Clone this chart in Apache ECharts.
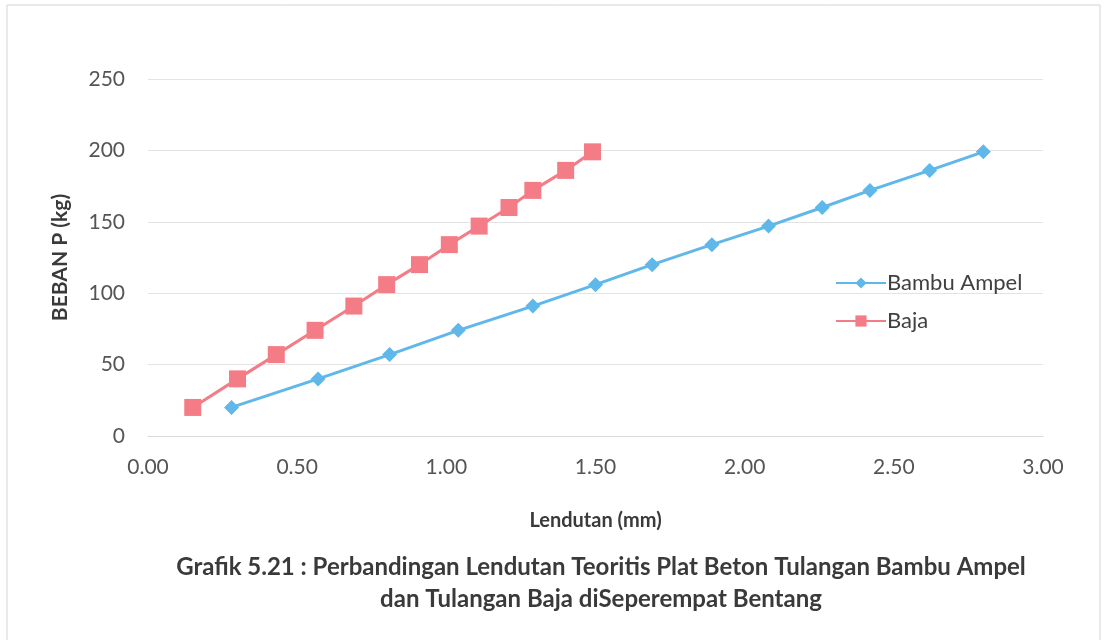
<!DOCTYPE html>
<html>
<head>
<meta charset="utf-8">
<script src="https://cdn.jsdelivr.net/npm/echarts@6/dist/echarts.min.js"></script>
<style>
  html, body { margin: 0; padding: 0; background: #ffffff; }
  #chart { width: 1106px; height: 640px; }
</style>
</head>
<body>
<div id="chart"></div>
<script>
// Load P (kg) applied at each step
const beban = [20, 40, 57, 74, 91, 106, 120, 134, 147, 160, 172, 186, 199];
// Theoretical deflection (mm) at quarter span
const lendutanBambu = [0.28, 0.57, 0.81, 1.04, 1.29, 1.50, 1.69, 1.89, 2.08, 2.26, 2.42, 2.62, 2.80];
const lendutanBaja = [0.15, 0.30, 0.43, 0.56, 0.69, 0.80, 0.91, 1.01, 1.11, 1.21, 1.29, 1.40, 1.49];
const seriesNames = ['Bambu Ampel', 'Baja'];
const xTicks = [0, 0.5, 1, 1.5, 2, 2.5, 3];
const yTicks = [0, 50, 100, 150, 200, 250];

const pairs = (xs, ys) => xs.map((x, i) => [x, ys[i]]);
const FONT = 'Lato, "Open Sans", sans-serif';

const chart = echarts.init(document.getElementById('chart'), null, { renderer: 'canvas' });
chart.setOption({
  backgroundColor: '#ffffff',
  animation: false,
  graphic: [{
    type: 'rect',
    shape: { x: 7, y: 5, width: 1093, height: 640 },
    style: { fill: 'none', stroke: '#d4d4d4', lineWidth: 1 },
    silent: true
  }],
  title: {
    text: 'Grafik 5.21 : Perbandingan Lendutan Teoritis Plat Beton Tulangan Bambu Ampel\ndan Tulangan Baja diSeperempat Bentang',
    left: 596,
    top: 546,
    textAlign: 'center',
    textStyle: {
      fontFamily: FONT,
      fontSize: 24,
      fontWeight: 'bold',
      color: '#3a3a3a',
      lineHeight: 32,
      align: 'center'
    }
  },
  legend: {
    orient: 'vertical',
    left: 830,
    top: 267,
    itemWidth: 50,
    itemHeight: 14,
    itemGap: 16,
    textStyle: { fontFamily: FONT, fontSize: 22, color: '#404040', padding: [0, 0, 0, -4] },
    data: seriesNames
  },
  grid: { left: 148, right: 63, top: 79, bottom: 204, containLabel: false },
  xAxis: {
    type: 'value',
    min: xTicks[0],
    max: xTicks[xTicks.length - 1],
    interval: 0.5,
    name: 'Lendutan (mm)',
    nameLocation: 'middle',
    nameGap: 75,
    nameTextStyle: { fontFamily: FONT, fontSize: 20, fontWeight: 'bold', color: '#3a3a3a' },
    axisLine: { show: true, lineStyle: { color: '#d9d9d9', width: 1 } },
    axisTick: { show: false },
    splitLine: { show: false },
    axisLabel: {
      fontFamily: FONT, fontSize: 21, color: '#555555', margin: 21,
      formatter: v => v.toFixed(2)
    }
  },
  yAxis: {
    type: 'value',
    min: yTicks[0],
    max: yTicks[yTicks.length - 1],
    interval: 50,
    name: 'BEBAN P (kg)',
    nameLocation: 'middle',
    nameGap: 77,
    nameRotate: 90,
    nameTextStyle: { fontFamily: FONT, fontSize: 21, fontWeight: 'bold', color: '#3a3a3a' },
    axisLine: { show: false },
    axisTick: { show: false },
    splitLine: { show: true, lineStyle: { color: '#e3e3e3', width: 1 } },
    axisLabel: { fontFamily: FONT, fontSize: 21, color: '#555555', margin: 23 }
  },
  series: [
    {
      name: seriesNames[0],
      type: 'line',
      data: pairs(lendutanBambu, beban),
      symbol: 'diamond',
      symbolSize: 15,
      lineStyle: { color: '#5fb7ea', width: 3 },
      itemStyle: { color: '#5fb7ea' },
      z: 2
    },
    {
      name: seriesNames[1],
      type: 'line',
      data: pairs(lendutanBaja, beban),
      symbol: 'rect',
      symbolSize: 17,
      lineStyle: { color: '#f47c86', width: 3 },
      itemStyle: { color: '#f47c86' },
      z: 3
    }
  ]
});
</script>
</body>
</html>
